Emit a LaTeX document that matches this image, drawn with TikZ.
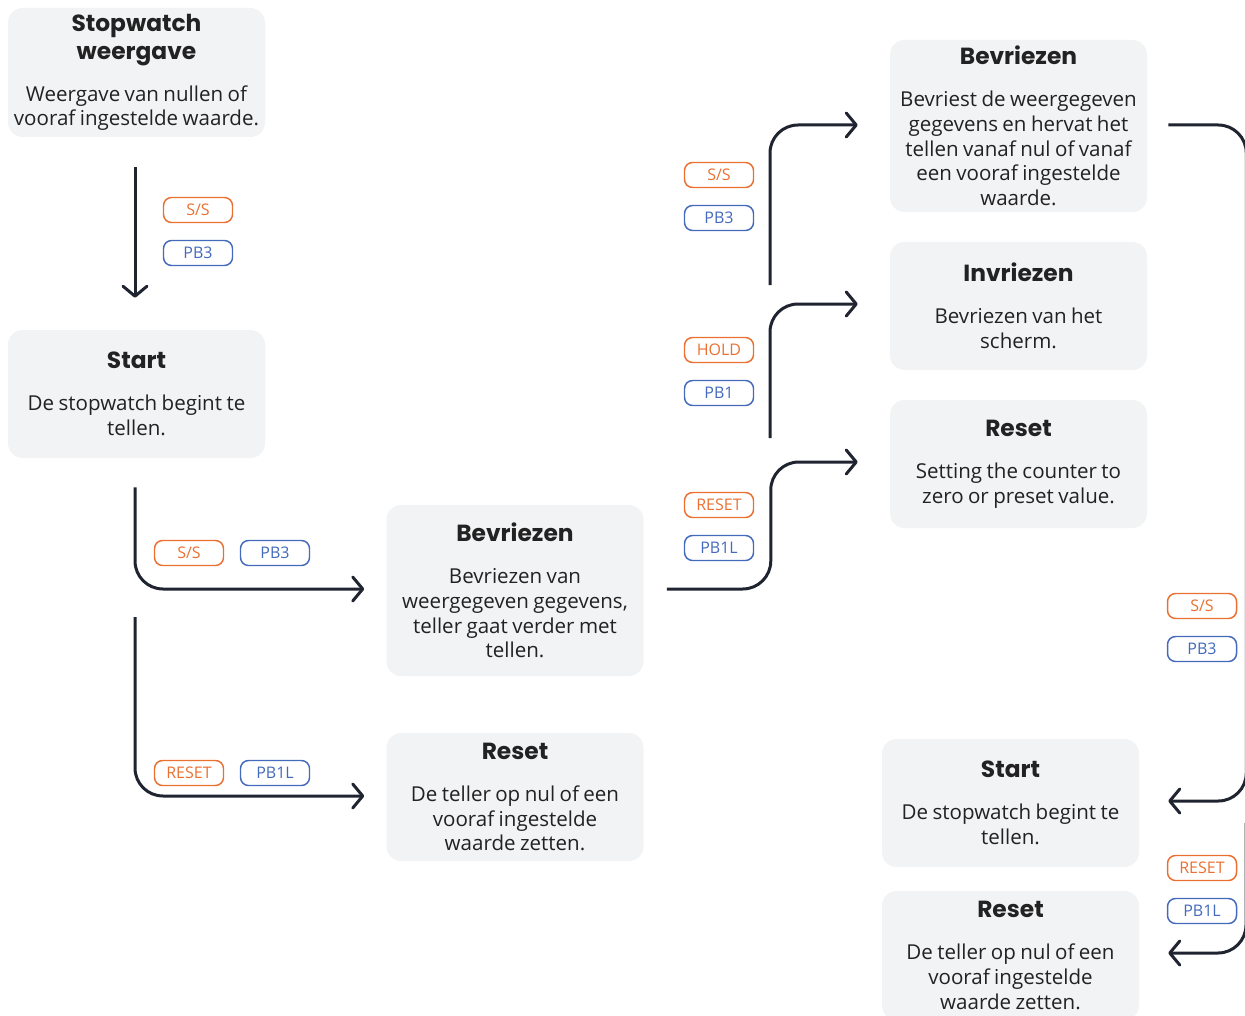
\documentclass[tikz,border=0pt]{standalone}
\usepackage{fontspec}
\setmainfont{Open Sans}
\newfontfamily\titlefont{Poppins}
\usetikzlibrary{
  calc,
  positioning,
  arrows.meta}

\definecolor{boxgray}{RGB}{242,243,245}
\definecolor{ink}{RGB}{34,34,34}
\definecolor{lineink}{RGB}{31,36,48}
\definecolor{tagorange}{RGB}{234,112,50}
\definecolor{tagblue}{RGB}{68,106,188}

% title + description inside one box
\newcommand{\boxtext}[2]{%
  {\titlefont\bfseries\fontsize{17.5}{21}\selectfont #1\par}%
  \vspace{13pt}%
  {\fontsize{15.4}{18.5}\selectfont #2\par}}

\begin{document}
\begin{tikzpicture}[
  x=0.75pt, y=-0.75pt,
  box/.style={fill=boxgray,rounded corners=11pt,text=ink,align=center,
    text width=189pt,inner xsep=1.875pt,inner ysep=0pt},
  tag/.style={draw,rounded corners=6pt,minimum width=51.75pt,minimum height=18.75pt,
    inner sep=0pt,line width=1.1pt,font=\fontsize{12}{14}\selectfont},
  tago/.style={tag,draw=tagorange,text=tagorange},
  tagb/.style={tag,draw=tagblue,text=tagblue},
  flow/.style={draw=lineink,line width=2.25pt,rounded corners=21pt,
    -{Straight Barb[length=7.5pt,width=18pt,line cap=round,line join=round]}},
  wire/.style={draw=lineink,line width=2.25pt,rounded corners=21pt}
]
  \useasboundingbox (0,0) rectangle (1245,1016);
  \clip (0,0) rectangle (1245,1016);

  % boxes
  \node[box,minimum height=96.75pt] (b1) at (136.5,72.5)
    {\boxtext{Stopwatch\\weergave}{Weergave van nullen of\\vooraf ingestelde waarde.}};
  \node[box,minimum height=96pt] (b2) at (136.5,394)
    {\boxtext{Start}{De stopwatch begint te\\tellen.}};
  \node[box,minimum height=128.25pt] (b3) at (515,590.5)
    {\boxtext{Bevriezen}{Bevriezen van\\weergegeven gegevens,\\teller gaat verder met\\tellen.}};
  \node[box,minimum height=96pt] (b4) at (515,797)
    {\boxtext{Reset}{De teller op nul of een\\vooraf ingestelde\\waarde zetten.}};
  \node[box,minimum height=129pt] (b5) at (1018.5,126)
    {\boxtext{Bevriezen}{Bevriest de weergegeven\\gegevens en hervat het\\tellen vanaf nul of vanaf\\een vooraf ingestelde\\waarde.}};
  \node[box,minimum height=96pt] (b6) at (1018.5,306)
    {\boxtext{Invriezen}{Bevriezen van het\\scherm.}};
  \node[box,minimum height=96pt] (b7) at (1018.5,464)
    {\boxtext{Reset}{Setting the counter to\\zero or preset value.}};
  \node[box,minimum height=96pt] (b8) at (1010.5,803)
    {\boxtext{Start}{De stopwatch begint te\\tellen.}};
  \node[box,minimum height=96.75pt] (b9) at (1010.5,955.5)
    {\boxtext{Reset}{De teller op nul of een\\vooraf ingestelde\\waarde zetten.}};

  % connector ends
  \coordinate (c1) at ($(b1.south)+(-1.5,30)$);
  \coordinate (c2) at ($(b2.south)+(-1.5,29)$);
  \coordinate (c3) at (135,617);
  \coordinate (c4) at ($(b3.east)+(23,-1.5)$);
  \coordinate (c5) at (770,438);
  \coordinate (c6) at (770,285);
  \coordinate (c7) at ($(b5.east)+(21,-1)$);
  \coordinate (c8) at (1246,823);

  \draw[flow] (c1) -- ($(b2.north)+(-1.5,-32)$);
  \draw[flow] (c2) |- ($(b3.west)+(-22,-1.5)$);
  \draw[flow] (c3) |- ($(b4.west)+(-22,-1)$);
  \draw[flow] (c4) -- ++(104,0) |- ($(b7.west)+(-32,-2)$);
  \draw[flow] (c5) |- ($(b6.west)+(-32,-2)$);
  \draw[flow] (c6) |- ($(b5.west)+(-32,-1)$);
  \draw[flow] (c7) -- ++(78,0) |- ($(b8.east)+(29,-2)$);
  \draw[flow] (c8) |- ($(b9.east)+(29,-2.5)$);

  % button tags
  \node[tago] (s1) at (198,210) {S/S};
  \node[tagb] (p1) at (198,253) {PB3};
  \node[tago] (s2) at (189,553) {S/S};
  \node[tagb] (p2) at (275,553) {PB3};
  \node[tago] (s3) at (189,773) {RESET};
  \node[tagb] (p3) at (275,773) {PB1L};
  \node[tago] (s4) at (719,175) {S/S};
  \node[tagb] (p4) at (719,218) {PB3};
  \node[tago] (s5) at (719,350) {HOLD};
  \node[tagb] (p5) at (719,393) {PB1};
  \node[tago] (s6) at (719,505) {RESET};
  \node[tagb] (p6) at (719,548) {PB1L};
  \node[tago] (s7) at (1202,606) {S/S};
  \node[tagb] (p7) at (1202,649) {PB3};
  \node[tago] (s8) at (1202,868) {RESET};
  \node[tagb] (p8) at (1202,911) {PB1L};

\end{tikzpicture}
\end{document}
